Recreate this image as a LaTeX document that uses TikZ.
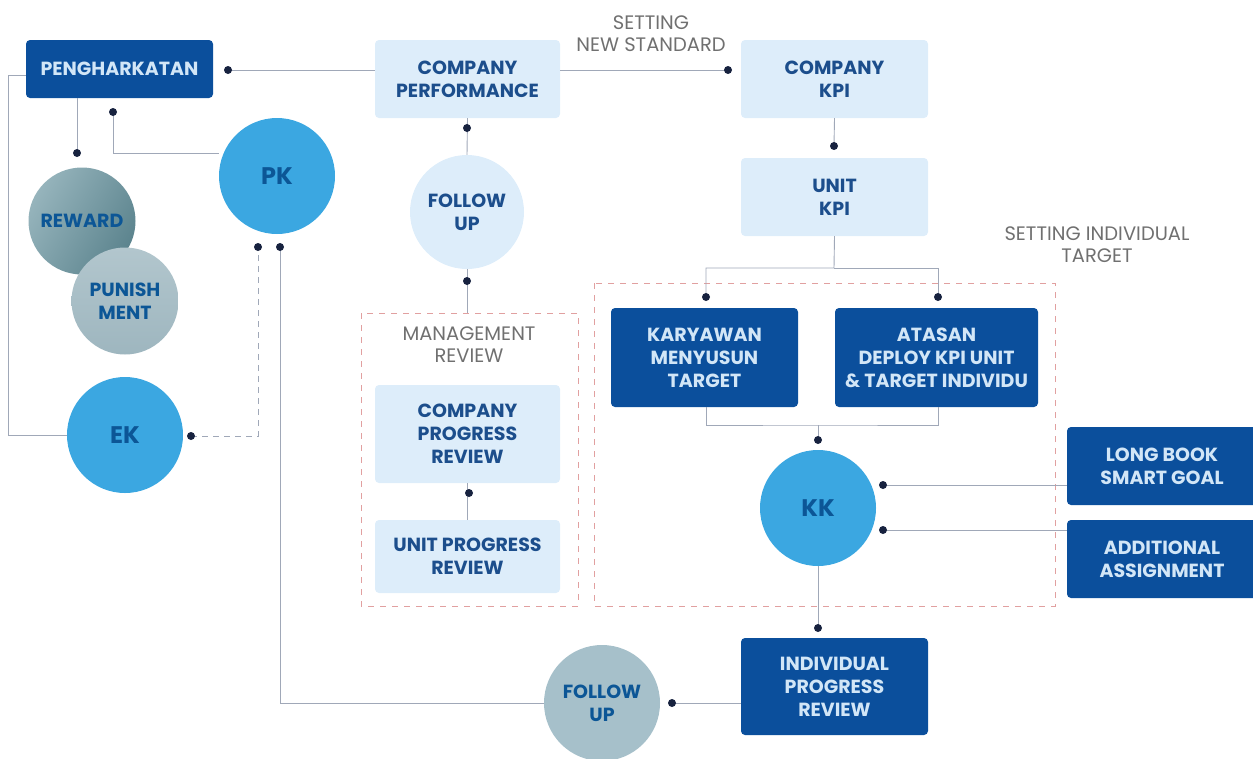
\documentclass[tikz,border=0pt]{standalone}
\usepackage{fontspec}
\setmainfont{Poppins}
\usetikzlibrary{calc}
\definecolor{dblue}{RGB}{11,79,156}
\definecolor{dtext}{RGB}{210,230,247}
\definecolor{lbox}{RGB}{221,237,250}
\definecolor{ltext}{RGB}{28,78,140}
\definecolor{cblue}{RGB}{59,167,225}
\definecolor{ctext}{RGB}{12,86,150}
\definecolor{dotc}{RGB}{23,34,63}
\definecolor{linec}{RGB}{160,168,184}
\definecolor{redd}{RGB}{225,160,160}
\definecolor{grayt}{RGB}{112,112,112}
\definecolor{rewA}{RGB}{150,180,188}
\definecolor{rewB}{RGB}{92,132,142}
\definecolor{punA}{RGB}{178,198,205}
\definecolor{punB}{RGB}{158,182,191}
\definecolor{fu2}{RGB}{166,192,202}
\tikzset{
  every node/.style={font=\bfseries\fontsize{19}{23}\selectfont, align=center, inner sep=0pt},
  dbox/.style={fill=dblue, text=dtext, rounded corners=4pt},
  lboxs/.style={fill=lbox, text=ltext, rounded corners=4pt},
  bcirc/.style={circle, fill=cblue, text=ctext, minimum size=116pt},
  bigt/.style={font=\bfseries\fontsize{24}{24}\selectfont},
  conn/.style={draw=linec, line width=0.9pt},
  dotst/.style={fill=dotc},
  redbox/.style={draw=redd, line width=0.9pt, dash pattern=on 6pt off 6pt},
  glabel/.style={text=grayt, font=\fontsize{19.5}{22}\selectfont}
}
\begin{document}
\begin{tikzpicture}[x=1pt,y=-1pt]
\useasboundingbox (0,0) rectangle (1253,758);
% dashed group boxes
\draw[redbox] (361,313) rectangle (578,606);
\draw[redbox] (594,283) rectangle (1055,606);
% nodes
\node[dbox, minimum width=187pt, minimum height=58pt] (peng) at (119.5,69) {PENGHARKATAN};
\node[lboxs, minimum width=185pt, minimum height=78pt] (cp) at (467.5,79) {COMPANY\\PERFORMANCE};
\node[lboxs, minimum width=187pt, minimum height=78pt] (ckpi) at (834.5,79) {COMPANY\\KPI};
\node[lboxs, minimum width=187pt, minimum height=78pt] (ukpi) at (834.5,197) {UNIT\\KPI};
\node[circle, fill=lbox, text=ltext, minimum size=114pt] (fu1) at (467,212) {FOLLOW\\UP};
\node[glabel] (sns) at (651,34) {SETTING\\NEW STANDARD};
\node[glabel] (sit) at (1097,245) {SETTING INDIVIDUAL\\TARGET};
\node[glabel] (mr) at (469,345) {MANAGEMENT\\REVIEW};
\node[lboxs, minimum width=185pt, minimum height=98pt] (cpr) at (467.5,434) {COMPANY\\PROGRESS\\REVIEW};
\node[lboxs, minimum width=185pt, minimum height=73pt] (upr) at (467.5,556.5) {UNIT PROGRESS\\REVIEW};
\node[dbox, minimum width=187pt, minimum height=99pt] (kar) at (704.5,357.5) {KARYAWAN\\MENYUSUN\\TARGET};
\node[dbox, minimum width=203pt, minimum height=99pt] (ata) at (936.5,357.5) {ATASAN\\DEPLOY KPI UNIT\\\& TARGET INDIVIDU};
\node[bcirc, bigt] (kk) at (818,508) {KK};
\node[dbox, minimum width=190pt, minimum height=78pt] (lb) at (1162,466) {LONG BOOK\\SMART GOAL};
\node[dbox, minimum width=190pt, minimum height=78pt] (aa) at (1162,559) {ADDITIONAL\\ASSIGNMENT};
\node[dbox, minimum width=187pt, minimum height=97pt] (ipr) at (834.5,686.5) {INDIVIDUAL\\PROGRESS\\REVIEW};
\node[circle, fill=fu2, text=ctext, minimum size=116pt] (fu2) at (602,703) {FOLLOW\\UP};
\node[bcirc, bigt] (pk) at (277,176) {PK};
\node[bcirc, bigt] (ek) at (125,435) {EK};
\node[circle, left color=rewA, right color=rewB, shading angle=60, text=ctext, minimum size=107pt] (rew) at (82,221) {REWARD};
\node[circle, top color=punA, bottom color=punB, text=ctext, minimum size=107pt] (pun) at (125,301) {PUNISH\\MENT};
% dot coordinates
\coordinate (d1) at (228,70);
\coordinate (d2) at (728,70);
\coordinate (d3) at (467,128);
\coordinate (d4) at (467,281);
\coordinate (mrtop) at (467,313);
\coordinate (d5) at (469,493);
\coordinate (d6) at (834,146);
\coordinate (d7) at (706,297);
\coordinate (d8) at (938,297);
\coordinate (d9) at (818,440);
\coordinate (d10) at (883,485);
\coordinate (d11) at (883,530);
\coordinate (d12) at (818,628);
\coordinate (d13) at (672,703);
\coordinate (d14) at (280,247);
\coordinate (d15) at (113,112);
\coordinate (d16) at (77,153);
\coordinate (d17) at (191,436);
\coordinate (d18) at (258,247);
% connectors
\draw[conn] (cp.west |- d1) -- (d1);
\draw[conn] (cp.east |- d2) -- (d2);
\draw[conn] (cp.south) -- (fu1.north);
\draw[conn] (fu1.south) -- (mrtop);
\draw[conn] (cpr.south) -- (upr.north);
\draw[conn] (ckpi.south) -- (d6);
\draw[conn] (ukpi.south) -- (834,268) -| (d7);
\draw[conn] (834,268) -| (d8);
\draw[conn] (kar.south -| d7) |- (818,425) -| (ata.south -| d8);
\draw[conn] (818,425) -- (d9);
\draw[conn] (kk.south) -- (d12);
\draw[conn] (lb.west |- d10) -- (d10);
\draw[conn] (aa.west |- d11) -- (d11);
\draw[conn] (ipr.west |- d13) -- (d13);
\draw[conn] (fu2.west) -| (d14);
\draw[conn] (pk.west |- 0,153) -| (d15);
\draw[conn] (peng.south -| d16) -- (d16);
\draw[conn] (peng.west |- 0,75) -- (8,75) |- (ek.west);
\draw[conn, dash pattern=on 6pt off 5pt] (d17) -| (d18);
\foreach \d in {d1,d2,d3,d4,d5,d6,d7,d8,d9,d10,d11,d12,d13,d14,d15,d16,d17,d18}
  \fill[dotst] (\d) circle (4pt);
\end{tikzpicture}
\end{document}
